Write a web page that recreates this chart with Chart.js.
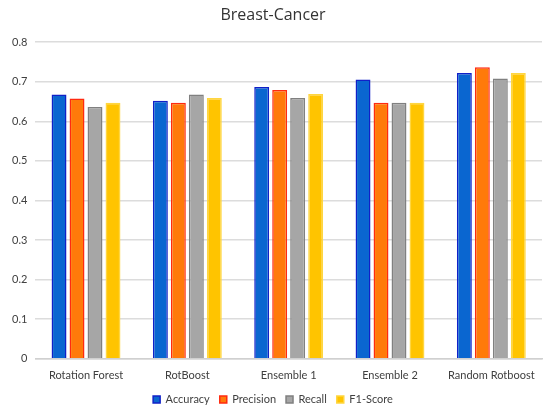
<!DOCTYPE html>
<html>
<head>
<meta charset="utf-8">
<script src="https://cdn.jsdelivr.net/npm/chart.js@4/dist/chart.umd.min.js"></script>
<style>
    html, body { margin: 0; padding: 0; background: #fff; }
    #wrap { width: 550px; height: 409px; }
</style>
</head>
<body>
<div id="wrap"><canvas id="chart"></canvas></div>
<script>
const categories = ["Rotation Forest", "RotBoost", "Ensemble 1", "Ensemble 2", "Random Rotboost"];
const accuracy = [0.668, 0.652, 0.687, 0.706, 0.722];
const precision = [0.658, 0.647, 0.679, 0.647, 0.737];
const recall = [0.636, 0.668, 0.659, 0.647, 0.708];
const f1Score = [0.647, 0.659, 0.669, 0.647, 0.722];
const yTicks = [0, 0.1, 0.2, 0.3, 0.4, 0.5, 0.6, 0.7, 0.8];

const ctx = document.getElementById("chart").getContext("2d");
new Chart(ctx, {
    type: "bar",
    data: {
        labels: categories,
        datasets: [
            { label: "Accuracy", data: accuracy, backgroundColor: "#0a66d0", borderColor: "#1020c8", borderWidth: 1.5 },
            { label: "Precision", data: precision, backgroundColor: "#ff7a0a", borderColor: "#ff2a10", borderWidth: 1.5 },
            { label: "Recall", data: recall, backgroundColor: "#a6a6a6", borderColor: "#808080", borderWidth: 1.5 },
            { label: "F1-Score", data: f1Score, backgroundColor: "#ffc400", borderColor: "#ffd640", borderWidth: 1.5 }
        ]
    },
    options: {
        responsive: true,
        maintainAspectRatio: false,
        animation: false,
        // small negative bottom padding pulls the legend toward the edge
        layout: { padding: { left: 4, right: 8, top: 0, bottom: -6 } },
        datasets: { bar: { categoryPercentage: 0.71, barPercentage: 0.83 } },
        plugins: {
            title: {
                display: true,
                text: "Breast-Cancer",
                color: "#333",
                font: { family: "Open Sans", size: 16, weight: "normal" },
                padding: { top: 6, bottom: 17 }
            },
            legend: {
                position: "bottom",
                labels: {
                    boxWidth: 7,
                    boxHeight: 7,
                    padding: 10,
                    color: "#404040",
                    font: { family: "Lato", size: 11 }
                }
            },
            tooltip: { enabled: false }
        },
        scales: {
            y: {
                min: 0,
                max: 0.8,
                afterBuildTicks: axis => { axis.ticks = yTicks.map(v => ({ value: v })); },
                ticks: {
                    color: "#404040",
                    font: { family: "Lato", size: 11 },
                    padding: 8,
                    callback: v => v === 0 ? "0" : v.toFixed(1)
                },
                grid: { color: "#dcdcdc", lineWidth: 1.5, drawTicks: false },
                border: { display: false }
            },
            x: {
                ticks: {
                    color: "#404040",
                    font: { family: "Lato", size: 11 },
                    padding: 2
                },
                grid: { display: false },
                border: { color: "#d0d0d0", width: 1.5 }
            }
        }
    }
});
</script>
</body>
</html>
